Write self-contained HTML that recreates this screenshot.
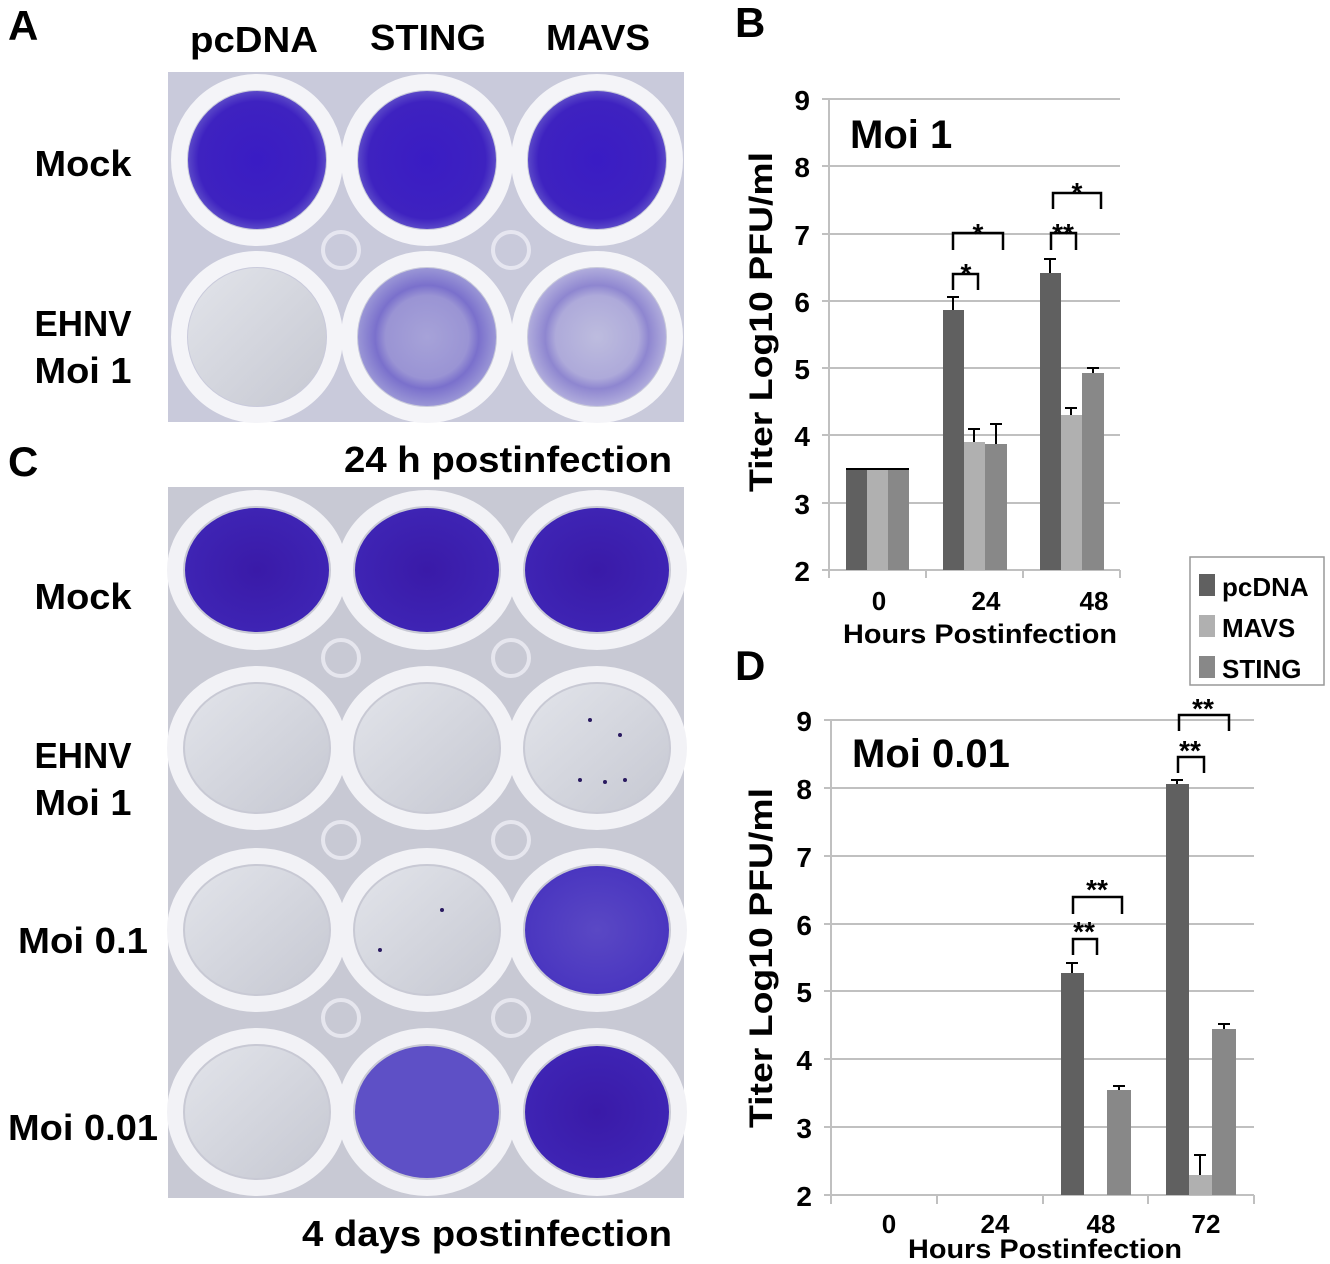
<!DOCTYPE html>
<html><head><meta charset="utf-8"><style>
html,body{margin:0;padding:0;background:#fff}
svg{display:block}
text{font-family:"Liberation Sans",Arial,sans-serif;font-weight:bold;fill:#000}
</style></head><body>
<svg width="1330" height="1264" viewBox="0 0 1330 1264" xmlns="http://www.w3.org/2000/svg">
<defs>
<radialGradient id="dark" cx="50%" cy="50%" r="50%"><stop offset="0" stop-color="#3a1cc4"/><stop offset="0.85" stop-color="#3e22c0"/><stop offset="1" stop-color="#5a48c8"/></radialGradient>
<radialGradient id="dark2" cx="50%" cy="50%" r="50%"><stop offset="0" stop-color="#3a1aa8"/><stop offset="1" stop-color="#3e24b4"/></radialGradient>
<radialGradient id="spk" cx="50%" cy="50%" r="50%"><stop offset="0" stop-color="#a6a2d8"/><stop offset="0.6" stop-color="#9a94d4"/><stop offset="0.75" stop-color="#7a70cc"/><stop offset="1" stop-color="#9a96d6"/></radialGradient>
<radialGradient id="spk2" cx="50%" cy="50%" r="50%"><stop offset="0" stop-color="#bdbcde"/><stop offset="0.6" stop-color="#aeaada"/><stop offset="0.75" stop-color="#8e86d0"/><stop offset="1" stop-color="#b0acdc"/></radialGradient>
<radialGradient id="plq" cx="50%" cy="50%" r="50%"><stop offset="0" stop-color="#5a48c4"/><stop offset="1" stop-color="#4a36c0"/></radialGradient>
<linearGradient id="empty" x1="0" y1="0" x2="1" y2="1"><stop offset="0" stop-color="#e2e4ea"/><stop offset="1" stop-color="#c6c8d2"/></linearGradient>
</defs>

<text x="8" y="40" font-size="42">A</text>
<text x="8" y="476" font-size="42">C</text>
<text x="735" y="37" font-size="42">B</text>
<text x="735" y="680" font-size="42">D</text>

<text x="254" y="52" font-size="36" text-anchor="middle" textLength="128" lengthAdjust="spacingAndGlyphs">pcDNA</text>
<text x="428" y="50" font-size="36" text-anchor="middle" textLength="116" lengthAdjust="spacingAndGlyphs">STING</text>
<text x="598" y="50" font-size="36" text-anchor="middle" textLength="104" lengthAdjust="spacingAndGlyphs">MAVS</text>

<text x="83" y="176" font-size="36" text-anchor="middle" textLength="97" lengthAdjust="spacingAndGlyphs">Mock</text>
<text x="83" y="336" font-size="36" text-anchor="middle" textLength="97" lengthAdjust="spacingAndGlyphs">EHNV</text>
<text x="83" y="383" font-size="36" text-anchor="middle" textLength="97" lengthAdjust="spacingAndGlyphs">Moi 1</text>
<text x="672" y="472" font-size="36" text-anchor="end" textLength="328" lengthAdjust="spacingAndGlyphs">24 h postinfection</text>

<text x="83" y="609" font-size="36" text-anchor="middle" textLength="97" lengthAdjust="spacingAndGlyphs">Mock</text>
<text x="83" y="768" font-size="36" text-anchor="middle" textLength="97" lengthAdjust="spacingAndGlyphs">EHNV</text>
<text x="83" y="815" font-size="36" text-anchor="middle" textLength="97" lengthAdjust="spacingAndGlyphs">Moi 1</text>
<text x="83" y="953" font-size="36" text-anchor="middle" textLength="130" lengthAdjust="spacingAndGlyphs">Moi 0.1</text>
<text x="83" y="1140" font-size="36" text-anchor="middle" textLength="150" lengthAdjust="spacingAndGlyphs">Moi 0.01</text>
<text x="672" y="1246" font-size="36" text-anchor="end" textLength="370" lengthAdjust="spacingAndGlyphs">4 days postinfection</text>

<!-- Plate A -->
<rect x="168" y="72" width="516" height="350" fill="#c9cadb"/>
<g fill="none" stroke="#e6e6f0" stroke-width="4">
<circle cx="341" cy="250" r="18"/><circle cx="511" cy="250" r="18"/>
</g>
<g stroke="#f4f4f8" stroke-width="16" fill="none">
<circle cx="257" cy="160" r="78"/><circle cx="427" cy="160" r="78"/><circle cx="597" cy="160" r="78"/>
<circle cx="257" cy="337" r="78"/><circle cx="427" cy="337" r="78"/><circle cx="597" cy="337" r="78"/>
</g>
<circle cx="257" cy="160" r="69" fill="url(#dark)"/>
<circle cx="427" cy="160" r="69" fill="url(#dark)"/>
<circle cx="597" cy="160" r="69" fill="url(#dark)"/>
<circle cx="257" cy="337" r="69" fill="url(#empty)"/>
<circle cx="427" cy="337" r="69" fill="url(#spk)"/>
<circle cx="597" cy="337" r="69" fill="url(#spk2)"/>

<!-- Plate C -->
<rect x="168" y="487" width="516" height="711" fill="#c8c9d4"/>
<g fill="none" stroke="#e6e6ee" stroke-width="4">
<circle cx="341" cy="658" r="18"/><circle cx="511" cy="658" r="18"/>
<circle cx="341" cy="840" r="18"/><circle cx="511" cy="840" r="18"/>
<circle cx="341" cy="1018" r="18"/><circle cx="511" cy="1018" r="18"/>
</g>
<g stroke="#f2f2f6" stroke-width="16" fill="none">
<ellipse cx="257" cy="570" rx="82" ry="72"/><ellipse cx="427" cy="570" rx="82" ry="72"/><ellipse cx="597" cy="570" rx="82" ry="72"/>
<ellipse cx="257" cy="748" rx="82" ry="74"/><ellipse cx="427" cy="748" rx="82" ry="74"/><ellipse cx="597" cy="748" rx="82" ry="74"/>
<ellipse cx="257" cy="930" rx="82" ry="74"/><ellipse cx="427" cy="930" rx="82" ry="74"/><ellipse cx="597" cy="930" rx="82" ry="74"/>
<ellipse cx="257" cy="1112" rx="82" ry="76"/><ellipse cx="427" cy="1112" rx="82" ry="76"/><ellipse cx="597" cy="1112" rx="82" ry="76"/>
</g>
<ellipse cx="257" cy="570" rx="72" ry="62" fill="url(#dark2)"/>
<ellipse cx="427" cy="570" rx="72" ry="62" fill="url(#dark2)"/>
<ellipse cx="597" cy="570" rx="72" ry="62" fill="url(#dark2)"/>
<ellipse cx="257" cy="748" rx="72" ry="64" fill="url(#empty)"/>
<ellipse cx="427" cy="748" rx="72" ry="64" fill="url(#empty)"/>
<ellipse cx="597" cy="748" rx="72" ry="64" fill="url(#empty)"/>
<ellipse cx="257" cy="930" rx="72" ry="64" fill="url(#empty)"/>
<ellipse cx="427" cy="930" rx="72" ry="64" fill="url(#empty)"/>
<ellipse cx="597" cy="930" rx="72" ry="64" fill="url(#plq)"/>
<ellipse cx="257" cy="1112" rx="72" ry="66" fill="url(#empty)"/>
<ellipse cx="427" cy="1112" rx="72" ry="66" fill="#5e50c6"/>
<ellipse cx="597" cy="1112" rx="72" ry="66" fill="url(#dark2)"/>
<g fill="#2a1a60">
<circle cx="590" cy="720" r="2"/><circle cx="620" cy="735" r="2"/><circle cx="625" cy="780" r="2"/><circle cx="580" cy="780" r="2"/><circle cx="605" cy="782" r="2"/><circle cx="442" cy="910" r="2"/><circle cx="380" cy="950" r="2"/>
</g>

<!-- Chart B -->
<g stroke="#c0c0c0" stroke-width="2">
<line x1="829" y1="99" x2="1120" y2="99"/><line x1="829" y1="166" x2="1120" y2="166"/>
<line x1="829" y1="234" x2="1120" y2="234"/><line x1="829" y1="301" x2="1120" y2="301"/>
<line x1="829" y1="368" x2="1120" y2="368"/><line x1="829" y1="435" x2="1120" y2="435"/>
<line x1="829" y1="503" x2="1120" y2="503"/><line x1="829" y1="570" x2="1120" y2="570"/>
<line x1="829" y1="99" x2="829" y2="578"/>
<line x1="822" y1="99" x2="829" y2="99"/><line x1="822" y1="166" x2="829" y2="166"/><line x1="822" y1="234" x2="829" y2="234"/><line x1="822" y1="301" x2="829" y2="301"/><line x1="822" y1="368" x2="829" y2="368"/><line x1="822" y1="435" x2="829" y2="435"/><line x1="822" y1="503" x2="829" y2="503"/><line x1="822" y1="570" x2="829" y2="570"/>
<line x1="926" y1="570" x2="926" y2="578"/><line x1="1023" y1="570" x2="1023" y2="578"/><line x1="1120" y1="570" x2="1120" y2="578"/>
</g>
<g font-size="28" text-anchor="end">
<text x="810" y="110">9</text><text x="810" y="177">8</text><text x="810" y="245">7</text><text x="810" y="312">6</text><text x="810" y="379">5</text><text x="810" y="446">4</text><text x="810" y="514">3</text><text x="810" y="581">2</text>
</g>
<text transform="translate(772,322) rotate(-90)" font-size="32" text-anchor="middle" textLength="340" lengthAdjust="spacingAndGlyphs">Titer Log10 PFU/ml</text>
<rect x="846" y="469" width="21" height="101" fill="#606060"/>
<rect x="867" y="469" width="21" height="101" fill="#b0b0b0"/>
<rect x="888" y="469" width="21" height="101" fill="#888"/>
<rect x="943" y="310" width="21" height="260" fill="#606060"/>
<rect x="964" y="442" width="21" height="128" fill="#b0b0b0"/>
<rect x="985" y="444" width="22" height="126" fill="#888"/>
<rect x="1040" y="273" width="21" height="297" fill="#606060"/>
<rect x="1061" y="415" width="21" height="155" fill="#b0b0b0"/>
<rect x="1082" y="373" width="22" height="197" fill="#888"/>
<g stroke="#000" stroke-width="2" fill="none">
<line x1="846" y1="469" x2="909" y2="469"/>
<path d="M953 310 V297 M947 297 H959"/>
<path d="M974 442 V429 M968 429 H980"/>
<path d="M996 444 V424 M990 424 H1002"/>
<path d="M1050 273 V259 M1044 259 H1056"/>
<path d="M1071 415 V408 M1065 408 H1077"/>
<path d="M1093 373 V368 M1087 368 H1099"/>
<path stroke-width="2.5" d="M953 290 V274 H978 V290"/>
<path stroke-width="2.5" d="M953 250 V233 H1003 V250"/>
<path stroke-width="2.5" d="M1051 250 V233 H1076 V250"/>
<path stroke-width="2.5" d="M1053 209 V193 H1101 V209"/>
</g>
<g font-size="28" text-anchor="middle">
<text x="966" y="283">*</text><text x="978" y="243">*</text><text x="1063" y="243">**</text><text x="1077" y="202">*</text>
</g>
<text x="850" y="148" font-size="40">Moi 1</text>
<g font-size="26" text-anchor="middle">
<text x="879" y="610">0</text><text x="986" y="610">24</text><text x="1094" y="610">48</text>
</g>
<text x="980" y="643" font-size="27" text-anchor="middle" textLength="274" lengthAdjust="spacingAndGlyphs">Hours Postinfection</text>

<rect x="1190" y="557" width="134" height="128" fill="#fff" stroke="#999" stroke-width="1.5"/>
<rect x="1199" y="574" width="16" height="22" fill="#606060"/>
<rect x="1199" y="615" width="16" height="22" fill="#b0b0b0"/>
<rect x="1199" y="656" width="16" height="22" fill="#888"/>
<g font-size="26"><text x="1222" y="596">pcDNA</text><text x="1222" y="637">MAVS</text><text x="1222" y="678">STING</text></g>

<!-- Chart D -->
<g stroke="#c0c0c0" stroke-width="2">
<line x1="831" y1="720" x2="1254" y2="720"/><line x1="831" y1="788" x2="1254" y2="788"/>
<line x1="831" y1="856" x2="1254" y2="856"/><line x1="831" y1="924" x2="1254" y2="924"/>
<line x1="831" y1="991" x2="1254" y2="991"/><line x1="831" y1="1059" x2="1254" y2="1059"/>
<line x1="831" y1="1127" x2="1254" y2="1127"/><line x1="831" y1="1195" x2="1254" y2="1195"/>
<line x1="831" y1="720" x2="831" y2="1204"/>
<line x1="824" y1="720" x2="831" y2="720"/><line x1="824" y1="788" x2="831" y2="788"/><line x1="824" y1="856" x2="831" y2="856"/><line x1="824" y1="924" x2="831" y2="924"/><line x1="824" y1="991" x2="831" y2="991"/><line x1="824" y1="1059" x2="831" y2="1059"/><line x1="824" y1="1127" x2="831" y2="1127"/><line x1="824" y1="1195" x2="831" y2="1195"/>
<line x1="937" y1="1195" x2="937" y2="1204"/><line x1="1043" y1="1195" x2="1043" y2="1204"/><line x1="1148" y1="1195" x2="1148" y2="1204"/><line x1="1254" y1="1195" x2="1254" y2="1204"/>
</g>
<g font-size="28" text-anchor="end">
<text x="812" y="731">9</text><text x="812" y="799">8</text><text x="812" y="867">7</text><text x="812" y="935">6</text><text x="812" y="1002">5</text><text x="812" y="1070">4</text><text x="812" y="1138">3</text><text x="812" y="1206">2</text>
</g>
<text transform="translate(772,958) rotate(-90)" font-size="32" text-anchor="middle" textLength="340" lengthAdjust="spacingAndGlyphs">Titer Log10 PFU/ml</text>
<rect x="1061" y="973" width="23" height="222" fill="#606060"/>
<rect x="1107" y="1090" width="24" height="105" fill="#888"/>
<rect x="1166" y="784" width="23" height="411" fill="#606060"/>
<rect x="1189" y="1175" width="23" height="20" fill="#b0b0b0"/>
<rect x="1212" y="1029" width="24" height="166" fill="#888"/>
<g stroke="#000" stroke-width="2" fill="none">
<path d="M1072 973 V963 M1066 963 H1078"/>
<path d="M1119 1090 V1086 M1113 1086 H1125"/>
<path d="M1177 784 V780 M1171 780 H1183"/>
<path d="M1200 1175 V1155 M1194 1155 H1206"/>
<path d="M1224 1029 V1024 M1218 1024 H1230"/>
<path stroke-width="2.5" d="M1073 955 V939 H1097 V955"/>
<path stroke-width="2.5" d="M1073 914 V897 H1122 V914"/>
<path stroke-width="2.5" d="M1178 773 V757 H1204 V773"/>
<path stroke-width="2.5" d="M1179 731 V715 H1229 V731"/>
</g>
<g font-size="28" text-anchor="middle">
<text x="1084" y="941">**</text><text x="1097" y="899">**</text><text x="1190" y="760">**</text><text x="1203" y="718">**</text>
</g>
<text x="852" y="767" font-size="40">Moi 0.01</text>
<g font-size="26" text-anchor="middle">
<text x="889" y="1233">0</text><text x="995" y="1233">24</text><text x="1101" y="1233">48</text><text x="1206" y="1233">72</text>
</g>
<text x="1045" y="1258" font-size="27" text-anchor="middle" textLength="274" lengthAdjust="spacingAndGlyphs">Hours Postinfection</text>
</svg>
</body></html>
